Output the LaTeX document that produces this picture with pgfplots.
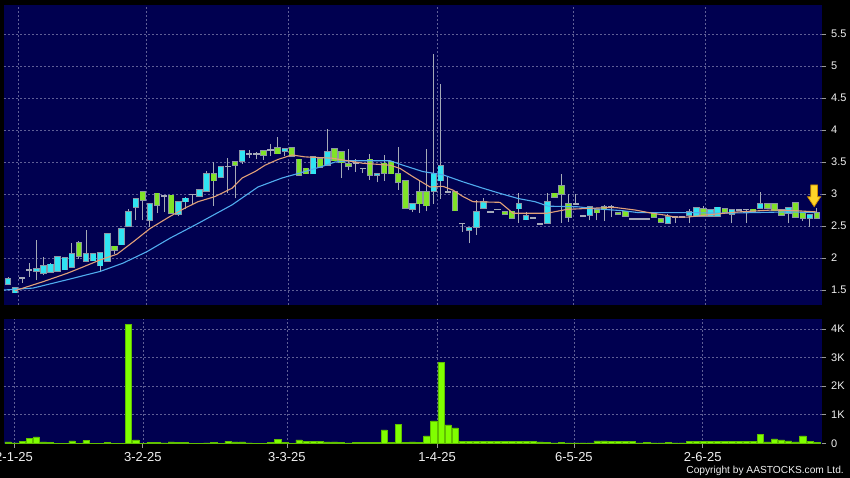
\documentclass[border=0pt]{standalone}
\usepackage{pgfplots}
\pgfplotsset{compat=1.18}
\usepackage{pgfplotstable}
\usepackage{fontspec}
\setmainfont{Liberation Sans}

\definecolor{bgnavy}{RGB}{0,0,80}
\definecolor{gridc}{RGB}{95,95,150}
\definecolor{upc}{RGB}{48,228,242}
\definecolor{dnc}{RGB}{128,226,40}
\definecolor{edgec}{RGB}{140,150,165}
\definecolor{dojic}{RGB}{165,170,185}
\definecolor{wickc}{RGB}{165,170,182}
\definecolor{volc}{RGB}{128,255,0}
\definecolor{ma1}{RGB}{225,160,120}
\definecolor{ma2}{RGB}{80,172,238}
\definecolor{lab}{RGB}{240,240,240}

% candles: index, open, high, low, close
\pgfplotstableread{
i o h l c
0 1.59 1.71 1.59 1.67
1 1.46 1.53 1.45 1.53
4 1.79 2.28 1.65 1.83
5 1.76 2.02 1.73 1.88
6 1.78 1.92 1.78 1.90
7 1.79 2.02 1.79 2.02
8 1.82 2.00 1.82 2.00
9 1.86 2.23 1.85 2.06
11 1.95 2.44 1.93 2.06
12 1.96 2.07 1.96 2.07
13 1.88 2.08 1.78 2.08
14 1.95 2.38 1.95 2.38
16 2.21 2.45 2.21 2.45
17 2.50 2.77 2.50 2.72
18 2.80 2.92 2.59 2.92
20 2.59 2.84 2.49 2.84
24 2.69 2.88 2.65 2.88
25 2.88 2.95 2.76 2.93
27 2.97 3.06 2.97 3.06
28 3.05 3.36 3.05 3.31
30 3.26 3.42 3.26 3.42
33 3.51 3.67 3.47 3.67
39 3.67 3.70 3.59 3.70
43 3.32 3.58 3.32 3.58
45 3.45 4.01 3.45 3.66
52 3.29 3.32 3.18 3.32
57 2.76 2.85 2.72 2.85
60 3.04 5.19 2.84 3.32
61 3.21 4.72 2.92 3.44
65 2.43 2.47 2.23 2.47
66 2.48 2.91 2.36 2.72
67 2.78 2.94 2.78 2.88
72 2.77 3.02 2.55 2.85
73 2.60 2.72 2.60 2.66
76 2.54 3.02 2.54 2.88
82 2.67 2.80 2.59 2.80
93 2.54 2.69 2.54 2.64
96 2.67 2.76 2.54 2.72
97 2.65 2.80 2.65 2.78
99 2.66 2.75 2.66 2.75
100 2.66 2.80 2.66 2.79
102 2.69 2.75 2.54 2.75
106 2.78 3.03 2.78 2.84
110 2.70 2.80 2.54 2.78
113 2.62 2.67 2.49 2.67
}\up

\pgfplotstableread{
i o h l c
10 2.24 2.26 1.99 2.03
15 2.18 2.18 2.06 2.12
19 3.03 3.03 2.59 2.90
21 3.01 3.01 2.70 2.83
23 2.98 2.98 2.69 2.70
29 3.32 3.50 2.81 3.21
32 3.50 3.50 2.93 3.45
36 3.67 3.67 3.53 3.61
38 3.72 3.89 3.63 3.63
40 3.72 3.72 3.59 3.59
41 3.54 3.54 3.30 3.30
42 3.40 3.40 3.32 3.32
44 3.55 3.55 3.42 3.42
46 3.71 3.71 3.52 3.52
47 3.66 3.66 3.25 3.49
48 3.47 3.71 3.37 3.43
51 3.54 3.63 3.22 3.29
53 3.48 3.61 3.21 3.33
54 3.50 3.50 3.32 3.32
55 3.32 3.74 3.07 3.18
56 3.21 3.21 2.77 2.78
58 3.03 3.21 2.70 2.85
59 3.03 3.71 2.73 2.82
63 3.03 3.03 2.74 2.74
70 2.72 2.72 2.69 2.69
71 2.73 2.73 2.62 2.62
77 3.01 3.01 2.95 2.95
78 3.13 3.32 2.55 3.00
79 2.84 3.00 2.56 2.64
83 2.75 2.75 2.59 2.71
84 2.80 2.83 2.58 2.76
86 2.71 2.71 2.68 2.68
87 2.73 2.73 2.66 2.66
91 2.70 2.70 2.64 2.64
92 2.61 2.61 2.55 2.56
98 2.77 2.81 2.64 2.65
101 2.77 2.77 2.72 2.72
105 2.76 2.76 2.73 2.73
107 2.84 2.84 2.78 2.78
108 2.84 2.84 2.74 2.74
109 2.75 2.75 2.67 2.67
111 2.86 2.86 2.64 2.64
112 2.70 2.70 2.58 2.62
114 2.70 2.78 2.62 2.62
}\dn

\pgfplotstableread{
i o h l c
2 1.69 1.69 1.61 1.69
3 1.81 1.92 1.71 1.81
22 2.97 2.98 2.72 2.97
26 2.99 2.99 2.84 2.99
31 3.43 3.57 3.01 3.43
34 3.63 3.69 3.56 3.63
35 3.62 3.66 3.54 3.62
37 3.69 3.78 3.59 3.69
49 3.48 3.55 3.35 3.48
50 3.40 3.40 3.33 3.40
62 3.03 3.27 3.03 3.03
64 2.54 2.54 2.41 2.54
68 2.72 2.72 2.72 2.72
69 2.76 2.76 2.76 2.76
74 2.62 2.62 2.62 2.62
75 2.53 2.53 2.53 2.53
80 2.84 3.00 2.84 2.84
81 2.66 2.66 2.66 2.66
85 2.80 2.83 2.64 2.80
88 2.61 2.61 2.61 2.61
89 2.61 2.61 2.61 2.61
90 2.61 2.61 2.61 2.61
94 2.64 2.64 2.54 2.64
95 2.64 2.64 2.64 2.64
103 2.75 2.75 2.75 2.75
104 2.76 2.76 2.55 2.76
}\doji

% moving averages
\pgfplotstableread{
i v
0.99 1.49
4.93 1.63
8.31 1.76
10.57 1.86
12.97 1.97
15.36 2.06
17.62 2.25
20.01 2.46
22.83 2.65
24.94 2.78
26.78 2.88
29.17 2.96
31.57 3.09
32.98 3.25
34.81 3.35
36.22 3.45
38.05 3.54
40.02 3.61
41.85 3.58
43.69 3.57
45.66 3.56
50.03 3.48
53.83 3.45
55.24 3.40
57.07 3.27
59.47 3.11
61.30 3.12
62.71 3.06
64.12 2.96
65.53 2.88
69.33 2.87
71.17 2.70
73.28 2.70
75.96 2.70
78.78 2.76
82.72 2.78
85.54 2.79
88.36 2.75
90.75 2.70
92.59 2.67
94.00 2.64
95.83 2.64
98.22 2.67
102.87 2.72
107.67 2.75
110.91 2.74
114.00 2.72
}\maA

\pgfplotstableread{
i v
-0.56 1.50
3.52 1.53
8.31 1.66
12.97 1.79
16.21 1.92
19.59 2.10
22.83 2.31
26.78 2.54
31.57 2.83
35.23 3.11
38.61 3.25
40.87 3.32
44.25 3.43
46.08 3.50
48.20 3.52
53.83 3.52
55.66 3.45
58.48 3.35
61.30 3.30
64.12 3.19
66.94 3.09
69.33 3.01
71.87 2.93
74.27 2.88
76.10 2.81
80.33 2.80
82.72 2.77
86.53 2.74
88.78 2.71
92.59 2.71
95.83 2.71
100.62 2.70
105.27 2.71
109.92 2.72
114.00 2.71
}\maB

% volume
\pgfplotstableread{
i v
0 50
1 10
2 60
3 175
4 220
5 50
6 20
7 5
8 5
9 80
10 5
11 95
12 5
13 5
14 35
15 5
16 5
17 4150
18 115
19 5
20 25
21 25
22 10
23 50
24 35
25 35
26 5
27 5
28 10
29 40
30 5
31 70
32 50
33 50
34 10
35 5
36 5
37 40
38 140
39 20
40 5
41 115
42 70
43 70
44 70
45 50
46 50
47 20
48 10
49 40
50 40
51 40
52 40
53 470
54 20
55 670
56 40
57 50
58 20
59 260
60 785
61 2830
62 645
63 540
64 70
65 70
66 60
67 60
68 70
69 70
70 70
71 70
72 70
73 70
74 60
75 50
76 30
77 10
78 30
79 15
80 10
81 10
82 10
83 80
84 80
85 70
86 70
87 70
88 60
89 15
90 30
91 10
92 10
93 30
94 10
95 10
96 60
97 60
98 60
99 60
100 60
101 60
102 60
103 60
104 60
105 60
106 320
107 50
108 150
109 115
110 80
111 50
112 260
113 60
114 25
}\vol

\pgfdeclareplotmark{dnarrow}{%
  \pgfpathmoveto{\pgfqpoint{-3.3pt}{10.8pt}}%
  \pgfpathlineto{\pgfqpoint{3.3pt}{10.8pt}}%
  \pgfpathlineto{\pgfqpoint{3.3pt}{-0.9pt}}%
  \pgfpathlineto{\pgfqpoint{6.6pt}{-0.9pt}}%
  \pgfpathlineto{\pgfqpoint{0pt}{-10.9pt}}%
  \pgfpathlineto{\pgfqpoint{-6.6pt}{-0.9pt}}%
  \pgfpathlineto{\pgfqpoint{-3.3pt}{-0.9pt}}%
  \pgfpathclose
  \pgfusepathqfillstroke
}

\pgfplotsset{
  cbar/.style 2 args={draw=none, mark=none, forget plot,
    error bars/.cd, y dir=plus, y explicit, error mark=none,
    error bar style={line width=#1, draw=#2, line cap=butt}},
  chartbase/.style={
    scale only axis, anchor=south west, width=818pt,
    xmin=-0.564, xmax=114.71,
    axis background/.style={fill=bgnavy},
    axis line style={draw=none},
    grid=major,
    grid style={gridc, dash pattern=on 2pt off 2pt, line width=0.6pt},
    tick align=outside,
    ytick pos=right, yticklabel pos=right,
    y tick style={draw=gray!80, line width=0.7pt},
    major tick length=4pt,
    /pgf/number format/assume math mode=true,
    yticklabel style={font=\fontsize{11}{12}\selectfont, text=lab, inner sep=0pt, xshift=5pt},
    clip=true,
  },
}

\begin{document}
\begin{tikzpicture}
\useasboundingbox (0,0) rectangle (850pt,478pt);
\fill[black] (0,0) rectangle (850pt,478pt);

\begin{axis}[chartbase,
  at={(4pt,173pt)}, height=300pt,
  ymin=1.266, ymax=5.953,
  ytick={1.5,2,2.5,3,3.5,4,4.5,5,5.5},
  xtick={1.41,19.45,39.46,60.46,79.6,98.2},
  xticklabels={}, x tick style={draw=none},
]
% wicks
\addplot[cbar={1pt}{wickc}] table[x=i, y=l, y error plus expr={\thisrow{h}-\thisrow{l}}] {\up};
\addplot[cbar={1pt}{wickc}] table[x=i, y=l, y error plus expr={\thisrow{h}-\thisrow{l}}] {\dn};
\addplot[cbar={1pt}{wickc}] table[x=i, y=l, y error plus expr={\thisrow{h}-\thisrow{l}}] {\doji};
% body outlines
\addplot[cbar={6.4pt}{edgec}] table[x=i, y expr={\thisrow{o}-0.012}, y error plus expr={\thisrow{c}-\thisrow{o}+0.024}] {\up};
\addplot[cbar={6.4pt}{edgec}] table[x=i, y expr={\thisrow{c}-0.012}, y error plus expr={\thisrow{o}-\thisrow{c}+0.024}] {\dn};
\addplot[cbar={6.4pt}{dojic}] table[x=i, y expr={\thisrow{o}-0.013}, y error plus expr={0.026}] {\doji};
% body fills
\addplot[cbar={4.8pt}{upc}] table[x=i, y=o, y error plus expr={\thisrow{c}-\thisrow{o}}] {\up};
\addplot[cbar={4.8pt}{dnc}] table[x=i, y=c, y error plus expr={\thisrow{o}-\thisrow{c}}] {\dn};
% moving averages
\addplot[ma2, line width=1.1pt, mark=none] table[x=i, y=v] {\maB};
\addplot[ma1, line width=1.1pt, mark=none] table[x=i, y=v] {\maA};
% arrow marker
\addplot[only marks, mark=dnarrow, fill={rgb,255:red,255;green,212;blue,40}, draw={rgb,255:red,205;green,140;blue,0}, line width=0.7pt] coordinates {(113.6,2.972)};
\end{axis}

\begin{axis}[chartbase,
  at={(4pt,34pt)}, height=125pt,
  ymin=-25, ymax=4350,
  scaled y ticks=false,
  ytick={1000,2000,3000,4000}, yticklabels={1K,2K,3K,4K},
  extra y ticks={0}, extra y tick labels={0}, extra y tick style={grid=none},
  xtick={0.85,19.0,39.3,60.46,79.75,97.9},
  xticklabels={2-1-25,3-2-25,3-3-25,1-4-25,6-5-25,2-6-25},
  xtick pos=bottom,
  x tick style={draw=gray!80, line width=0.7pt},
  xticklabel style={font=\fontsize{13}{14}\selectfont, text=lab, inner sep=0pt, yshift=-4.5pt},
]
\addplot[ybar, bar width=6.2pt, bar shift=0pt, fill=volc, draw=volc!75!black, line width=0.5pt] table[x=i, y=v] {\vol};
\end{axis}

\node[anchor=south east, inner sep=0pt, text=lab, font=\fontsize{10.2}{12}\selectfont] at (844pt,2.5pt) {Copyright by AASTOCKS.com Ltd.};
\end{tikzpicture}
\end{document}
